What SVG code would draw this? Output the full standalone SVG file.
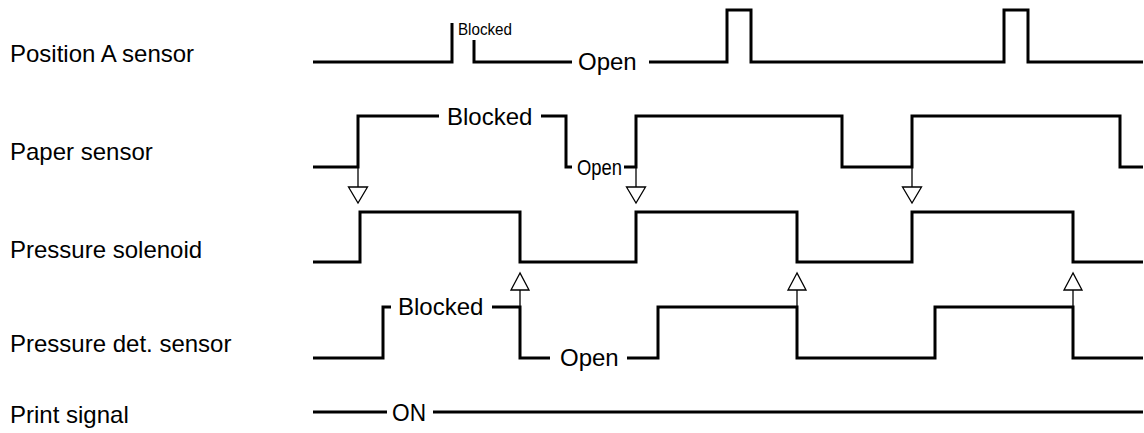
<svg xmlns="http://www.w3.org/2000/svg" width="1144" height="433" viewBox="0 0 1144 433">
<style>
text{font-family:"Liberation Sans",Arial,sans-serif;fill:#000}
.lbl{font-size:24px}
.st{font-size:24px}
.sig{fill:none;stroke:#000;stroke-width:3;stroke-linejoin:miter;stroke-linecap:butt}
.arr{fill:none;stroke:#000;stroke-width:1.3}
.tri{fill:#fff;stroke:#000;stroke-width:1.3;stroke-linejoin:miter}
</style>
<rect width="1144" height="433" fill="#fff"/>
<g id="position-a">
<text class="lbl" x="10" y="62">Position A sensor</text>
<polyline class="sig" points="313,62 452,62 452,23"/>
<text x="458" y="35" font-size="16" textLength="54" lengthAdjust="spacingAndGlyphs">Blocked</text>
<polyline class="sig" points="474,40 474,62 572,62"/>
<text class="st" x="578" y="70">Open</text>
<polyline class="sig" points="649,62 727,62 727,10 751,10 751,62 1004,62 1004,10 1028,10 1028,62 1143,62"/>
</g>
<g id="paper">
<text class="lbl" x="10" y="160">Paper sensor</text>
<polyline class="sig" points="313,167 358,167 358,116 439,116"/>
<text class="st" x="447" y="124.5">Blocked</text>
<polyline class="sig" points="541,116 566,116 566,167 572,167"/>
<text x="577" y="175" font-size="22" textLength="45" lengthAdjust="spacingAndGlyphs">Open</text>
<polyline class="sig" points="624,167 636,167 636,116 842,116 842,167 912,167 912,116 1120,116 1120,167 1143,167"/>
</g>
<g id="solenoid">
<text class="lbl" x="10" y="258">Pressure solenoid</text>
<polyline class="sig" points="313,262 360,262 360,212 520,212 520,262 636,262 636,212 797,212 797,262 912,262 912,212 1073,212 1073,262 1143,262"/>
</g>
<g id="pressure-det">
<text class="lbl" x="10" y="352">Pressure det. sensor</text>
<polyline class="sig" points="313,358 383,358 383,307 391,307"/>
<text class="st" x="398" y="315">Blocked</text>
<polyline class="sig" points="492,307 520,307 520,358 550,358"/>
<text class="st" x="560" y="366">Open</text>
<polyline class="sig" points="627,358 658,358 658,307 797,307 797,358 935,358 935,307 1073,307 1073,358 1143,358"/>
</g>
<g id="print">
<text class="lbl" x="10" y="423">Print signal</text>
<line class="sig" x1="313" y1="412" x2="387" y2="412"/>
<text class="st" x="392" y="420.5" textLength="34" lengthAdjust="spacingAndGlyphs">ON</text>
<line class="sig" x1="433" y1="412" x2="1143" y2="412"/>
</g>
<g id="connectors">
<line class="arr" x1="358" y1="167" x2="358" y2="187"/>
<polygon class="tri" points="348.5,187 367.5,187 358,203"/>
<line class="arr" x1="636" y1="167" x2="636" y2="187"/>
<polygon class="tri" points="626.5,187 645.5,187 636,203"/>
<line class="arr" x1="912" y1="167" x2="912" y2="187"/>
<polygon class="tri" points="902.5,187 921.5,187 912,203"/>
<line class="arr" x1="520" y1="290" x2="520" y2="307"/>
<polygon class="tri" points="520,273 511,290 529,290"/>
<line class="arr" x1="797" y1="290" x2="797" y2="307"/>
<polygon class="tri" points="797,273 788,290 806,290"/>
<line class="arr" x1="1073" y1="290" x2="1073" y2="307"/>
<polygon class="tri" points="1073,273 1064,290 1082,290"/>
</g>
</svg>
